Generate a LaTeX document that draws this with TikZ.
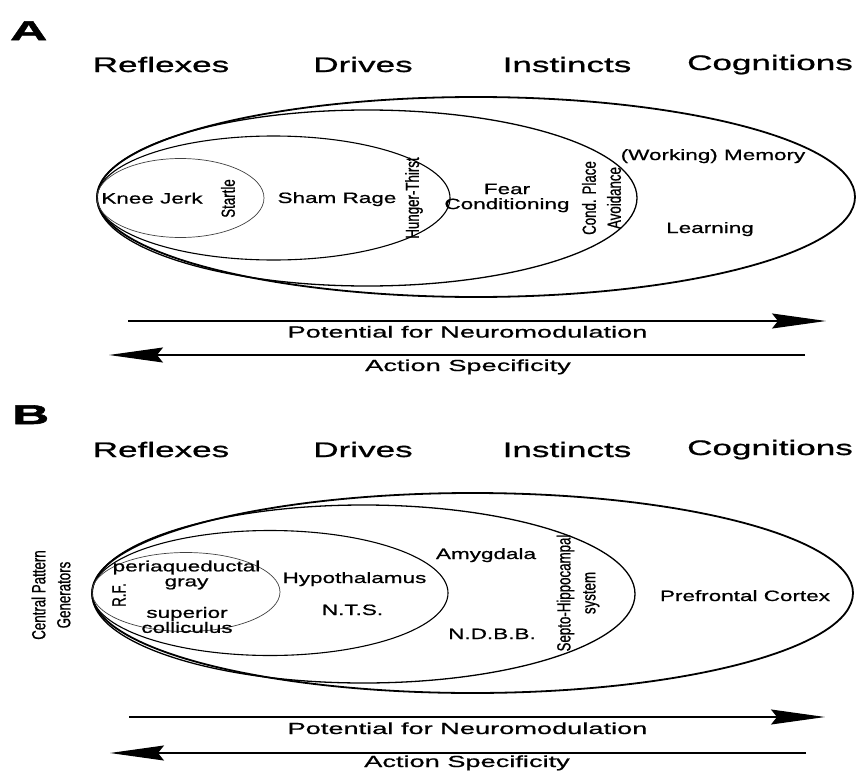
\documentclass[tikz,border=0pt]{standalone}
\usepackage{fontspec}
\usepackage{tikz}
\usetikzlibrary{arrows.meta}
% stretched sans faces (the figure is wide)
\newfontfamily\headfont[FakeStretch=1.67,FakeBold=1]{Liberation Sans}
\newfontfamily\labfont[FakeStretch=1.5,FakeBold=0.8]{Liberation Sans}
\newfontfamily\arrfont[FakeStretch=1.7,FakeBold=0.8]{Liberation Sans}
\newfontfamily\rotfont[FakeStretch=0.7,FakeBold=0.8]{Liberation Sans}
\newfontfamily\panelfont[FakeStretch=1.9,FakeBold=2]{Liberation Sans}

\begin{document}
\begin{tikzpicture}[x=1pt,y=-1pt,inner sep=0pt,
	head/.style={font=\headfont\fontsize{21}{25}\selectfont,anchor=base},
	panel/.style={font=\panelfont\bfseries\fontsize{27}{30}\selectfont,anchor=base west},
	lab/.style={font=\labfont\fontsize{15}{15}\selectfont,align=center},
	rlab/.style={font=\rotfont\fontsize{19}{25}\selectfont,align=center,rotate=90},
	arrlab/.style={font=\arrfont\fontsize{16}{19}\selectfont,anchor=base},
	ring1/.style={line width=1.8pt},
	ring2/.style={line width=1.3pt},
	ring3/.style={line width=1.1pt},
	ring4/.style={line width=0.7pt,black!75},
	bigarrow/.style={line width=1.2pt,-{Stealth[length=54pt,width=15pt,inset=6pt]}}]
	\useasboundingbox (0,0) rectangle (857,771);

	% ---------- panel A
	\node[panel] (A) at (10,40) {A};
	\node[head] (refA) at (161,72) {Reflexes};
	\node[head] (driA) at (363,72) {Drives};
	\node[head] (insA) at (567,72) {Instincts};
	\node[head] (cogA) at (770,70) {Cognitions};

	\draw[ring1] (476,197) ellipse [x radius=379,y radius=100];
	\draw[ring2] (367,198) ellipse [x radius=270,y radius=88];
	\draw[ring3] (273.5,198) ellipse [x radius=176.5,y radius=62];
	\draw[ring4] (180.5,198) ellipse [x radius=83.5,y radius=39.5];

	\node[lab,anchor=base] (knee) at (152,203.5) {Knee Jerk};
	\node[rlab] (startle) at (228,198.5) {Startle};
	\node[lab,anchor=base] (sham) at (337,203) {Sham Rage};
	\node[rlab] (hunger) at (414,198) {Hunger-Thirst};
	\node[lab] (fear) at (507,198) {Fear\\Conditioning};
	\node[rlab] (cpa) at (601.5,198) {Cond. Place\\Avoidance};
	\node[lab,anchor=base] (memory) at (713,160) {(Working) Memory};
	\node[lab,anchor=base] (learn) at (710,233) {Learning};

	\coordinate (nmA1) at (128,321);
	\coordinate (nmA2) at (826,321);
	\coordinate (asA1) at (805,355);
	\coordinate (asA2) at (109,355);
	\draw[bigarrow] (nmA1) -- (nmA2);
	\draw[bigarrow] (asA1) -- (asA2);
	\node[arrlab] (nmlabA) at (467.5,337.5) {Potential for Neuromodulation};
	\node[arrlab] (aslabA) at (468,371) {Action Specificity};

	% ---------- panel B
	\node[panel] (B) at (12,424) {B};
	\node[head] (refB) at (161,457) {Reflexes};
	\node[head] (driB) at (363,457) {Drives};
	\node[head] (insB) at (567,457) {Instincts};
	\node[head] (cogB) at (770,455) {Cognitions};

	\draw[ring1] (472.5,593) ellipse [x radius=380.5,y radius=100];
	\draw[ring2] (363.5,594) ellipse [x radius=271.5,y radius=89];
	\draw[ring3] (270,593) ellipse [x radius=178,y radius=62.5];
	\draw[ring4] (186,592) ellipse [x radius=94,y radius=39.5];

	\node[rlab] (cpg) at (51,595) {Central Pattern\\Generators};
	\node[rlab] (rf) at (119,595) {R.F.};
	\node[lab] (pag) at (186.5,575) {periaqueductal\\gray};
	\node[lab] (sc) at (187,620) {superior\\colliculus};
	\node[lab,anchor=base] (hypo) at (354.5,583) {Hypothalamus};
	\node[lab,anchor=base] (nts) at (352.5,615) {N.T.S.};
	\node[lab,anchor=base] (amyg) at (486,559) {Amygdala};
	\node[lab,anchor=base] (ndbb) at (492,639) {N.D.B.B.};
	\node[rlab] (septo) at (578,593) {Septo-Hippocampal\\system};
	\node[lab,anchor=base] (pfc) at (745,601) {Prefrontal Cortex};

	\coordinate (nmB1) at (129,717);
	\coordinate (nmB2) at (825,717);
	\coordinate (asB1) at (806,753);
	\coordinate (asB2) at (110,753);
	\draw[bigarrow] (nmB1) -- (nmB2);
	\draw[bigarrow] (asB1) -- (asB2);
	\node[arrlab] (nmlabB) at (467.5,734) {Potential for Neuromodulation};
	\node[arrlab] (aslabB) at (467,767) {Action Specificity};
\end{tikzpicture}
\end{document}
